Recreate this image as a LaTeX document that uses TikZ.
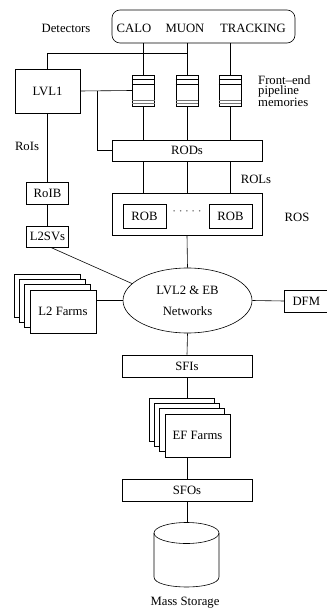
\documentclass[tikz,border=0pt]{standalone}
\usepackage{fontspec}
\setmainfont{Liberation Serif}
\usetikzlibrary{shapes.geometric,calc}
\newcommand\diagfont{\fontsize{12.7}{13}\selectfont}
\begin{document}
\begin{tikzpicture}[x=1pt,y=-1pt,
  ln/.style={line width=0.6pt},
  box/.style={draw, line width=0.6pt, inner sep=0pt, fill=white, font=\diagfont},
  lbl/.style={inner sep=0pt, font=\diagfont},
  memline/.style={line width=0.6pt},
  memgray/.style={line width=0.7pt, black!55}]
\useasboundingbox (0,0) rectangle (326,609);
% detectors
\node[box, rounded corners=8pt, minimum width=183pt, minimum height=33pt] (det) at (203.5,26.5) {};
\node[lbl] (tdet) at (66,28) {Detectors};
\node[lbl] (calo) at (134,28) {CALO};
\node[lbl] (muon) at (185,28) {MUON};
\node[lbl] (trk) at (253,28) {TRACKING};
% LVL1
\node[box, minimum width=65pt, minimum height=44pt] (lvl1) at (47.5,91) {LVL1};
% memories
\foreach \n/\x in {m1/143.5, m2/187, m3/230}{
  \node[box, minimum width=22pt, minimum height=31pt] (\n) at (\x,90.5) {};
  \draw[memline] ($(\n.north west)+(0,5)$) -- ($(\n.north east)+(0,5)$);
  \draw[memline] ($(\n.north west)+(0,10)$) -- ($(\n.north east)+(0,10)$);
  \draw[memgray] ($(\n.north west)+(0,25.5)$) -- ($(\n.north east)+(0,25.5)$);
  \draw[memgray] ($(\n.north west)+(0,28.5)$) -- ($(\n.north east)+(0,28.5)$);
}
\node[lbl, align=left, anchor=west, font=\fontsize{12.7}{9.8}\selectfont] (fe) at (258,91) {Front--end\\pipeline\\memories};
% RODs
\node[box, minimum width=150pt, minimum height=21pt] (rods) at (187,150.5) {RODs};
\node[lbl] (rols) at (256,179) {ROLs};
% ROS
\node[box, minimum width=150pt, minimum height=42pt] (ros) at (187,214) {};
\node[box, minimum width=43pt, minimum height=24pt] (rob1) at (144.5,216) {ROB};
\node[box, minimum width=43pt, minimum height=24pt] (rob2) at (230.5,216) {ROB};
\node[lbl, text=black!60] (dots) at (187,213) {·\,·\,·\,·\,·};
\node[lbl] (roslbl) at (297,217) {ROS};
% RoI path
\node[lbl] (rois) at (27,146) {RoIs};
\node[box, minimum width=42pt, minimum height=22pt] (roib) at (47.5,193) {RoIB};
\node[box, minimum width=42pt, minimum height=21pt] (l2sv) at (47.5,236.5) {L2SVs};
% network
\node[draw, ln, ellipse, minimum width=129pt, minimum height=65pt, inner sep=0pt, align=center, font=\fontsize{12.7}{21}\selectfont] (net) at (187.5,300.5) {LVL2 \& EB\\Networks};
% L2 farms
\foreach \k in {0,1,2}{
  \node[box, minimum width=66pt, minimum height=43pt] (l2b\k) at ({47+5.33*\k},{295.5+5.33*\k}) {};
}
\node[box, minimum width=66pt, minimum height=43pt] (l2f) at (63,311.5) {L2 Farms};
% DFM
\node[box, minimum width=44pt, minimum height=22pt, anchor=west] (dfm) at (284,301) {DFM};
% SFIs
\node[box, minimum width=130pt, minimum height=22pt] (sfi) at (187,366) {SFIs};
% EF farms
\foreach \k in {0,1,2}{
  \node[box, minimum width=65pt, minimum height=43pt] (efb\k) at ({181.5+5.33*\k},{419.5+5.33*\k}) {};
}
\node[box, minimum width=65pt, minimum height=43pt] (eff) at (197.5,435.5) {EF Farms};
% SFOs
\node[box, minimum width=130pt, minimum height=22pt] (sfo) at (187,490) {SFOs};
% storage cylinder
\coordinate (cyltop) at (187,522.5);
\draw[ln] (186.5,533) ellipse [x radius=32.5, y radius=10.5];
\draw[ln] (154,533) -- (154,577) .. controls (154,590.3) and (219,590.3) .. (219,577) -- (219,533);
\node[lbl] (ms) at (185,603) {Mass Storage};
% connectors
\foreach \n in {m1,m2,m3}{
  \draw[ln] (\n.north) -- (\n.north |- det.south);
  \draw[ln] (\n.south) -- (\n.south |- rods.north);
  \draw[ln] (\n.south |- rods.south) -- (\n.south |- ros.north);
}
\coordinate (jt) at (187,53);
\draw[ln] (lvl1.north) |- (jt);
\draw[ln] (lvl1.east) -- (m1.west);
\coordinate (br) at (97,91);
\draw[ln] (br) |- (rods.west);
\draw[ln] (ros.south) -- (net.north);
\draw[ln] (lvl1.south) -- (roib.north);
\draw[ln] (roib.south) -- (l2sv.north);
\draw[ln] ([xshift=3pt]l2sv.south) -- (net.163);
\draw[ln] (net.west) -- (net.west -| l2f.east);
\draw[ln] (net.east) -- (dfm.west);
\draw[ln] (net.south) -- (sfi.north);
\draw[ln] (sfi.south) -- (sfi.south |- efb0.north);
\draw[ln] (sfo.north) -- (sfo.north |- eff.south);
\draw[ln] (sfo.south) -- (cyltop);
\end{tikzpicture}
\end{document}
